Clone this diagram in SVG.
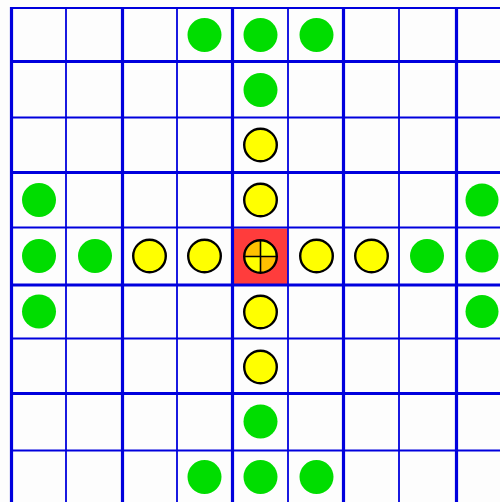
<svg xmlns="http://www.w3.org/2000/svg" width="500" height="502" viewBox="0 0 500 502">
<style>
.thick{stroke:#0000dd;stroke-width:3.2;fill:none}
.thin{stroke:#0000dd;stroke-width:1.8;fill:none}
.g{fill:#00dd00}
.y{fill:#ffff00;stroke:#000;stroke-width:2.4}
</style>
<rect x="0" y="0" width="500" height="502" fill="#fdfdfd"/>
<g id="center-cell"><rect x="233" y="228.5" width="55" height="56" fill="#ff3c3c"/></g>
<g id="grid">
<line class="thin" x1="10" y1="8" x2="500" y2="8"/>
<line class="thick" x1="10" y1="61.5" x2="500" y2="61.5"/>
<line class="thin" x1="10" y1="117.5" x2="500" y2="117.5"/>
<line class="thick" x1="10" y1="172.5" x2="500" y2="172.5"/>
<line class="thin" x1="10" y1="227.5" x2="500" y2="227.5"/>
<line class="thick" x1="10" y1="285" x2="500" y2="285"/>
<line class="thin" x1="10" y1="338.5" x2="500" y2="338.5"/>
<line class="thick" x1="10" y1="393.5" x2="500" y2="393.5"/>
<line class="thin" x1="10" y1="450.5" x2="500" y2="450.5"/>
<line class="thick" x1="11.5" y1="7" x2="11.5" y2="502"/>
<line class="thin" x1="66" y1="7" x2="66" y2="502"/>
<line class="thick" x1="122.5" y1="7" x2="122.5" y2="502"/>
<line class="thin" x1="177" y1="7" x2="177" y2="502"/>
<line class="thick" x1="232.5" y1="7" x2="232.5" y2="502"/>
<line class="thin" x1="288" y1="7" x2="288" y2="502"/>
<line class="thick" x1="343.5" y1="7" x2="343.5" y2="502"/>
<line class="thin" x1="399" y1="7" x2="399" y2="502"/>
<line class="thick" x1="456.5" y1="7" x2="456.5" y2="502"/>
</g>
<g id="green-pieces">
<circle class="g" cx="204.5" cy="35" r="17"/>
<circle class="g" cx="260.5" cy="35" r="17"/>
<circle class="g" cx="316.5" cy="35" r="17"/>
<circle class="g" cx="260.5" cy="90" r="17"/>
<circle class="g" cx="39" cy="200" r="17"/>
<circle class="g" cx="39" cy="256" r="17"/>
<circle class="g" cx="95" cy="256" r="17"/>
<circle class="g" cx="39" cy="311.5" r="17"/>
<circle class="g" cx="427" cy="256" r="17"/>
<circle class="g" cx="482" cy="200" r="16.5"/>
<circle class="g" cx="482" cy="256" r="16.5"/>
<circle class="g" cx="482" cy="311.5" r="16.5"/>
<circle class="g" cx="260.5" cy="421.5" r="17"/>
<circle class="g" cx="204.5" cy="477" r="17"/>
<circle class="g" cx="260.5" cy="477" r="17"/>
<circle class="g" cx="316.5" cy="477" r="17"/>
</g>
<g id="yellow-pieces">
<circle class="y" cx="260.5" cy="145" r="16.3"/>
<circle class="y" cx="260.5" cy="200" r="16.3"/>
<circle class="y" cx="149.5" cy="256" r="16.3"/>
<circle class="y" cx="204.5" cy="256" r="16.3"/>
<circle class="y" cx="316.5" cy="256" r="16.3"/>
<circle class="y" cx="371.5" cy="256" r="16.3"/>
<circle class="y" cx="260.5" cy="312" r="16.3"/>
<circle class="y" cx="260.5" cy="367" r="16.3"/>
</g>
<g id="center-piece">
<circle cx="260.5" cy="256.5" r="16.3" fill="#ffff00"/>
<path d="M260.5 256.5 L244.2 256.5 A16.3 16.3 0 0 1 260.5 240.2 Z" fill="#ffc000"/>
<path d="M260.5 256.5 L276.8 256.5 A16.3 16.3 0 0 1 260.5 272.8 Z" fill="#ffc000"/>
<circle cx="260.5" cy="256.5" r="16.3" fill="none" stroke="#000" stroke-width="2.4"/>
<line x1="244.5" y1="256.5" x2="276.5" y2="256.5" stroke="#000" stroke-width="1.6"/>
<line x1="260.5" y1="240.5" x2="260.5" y2="272.5" stroke="#000" stroke-width="1.6"/>
</g>
</svg>
